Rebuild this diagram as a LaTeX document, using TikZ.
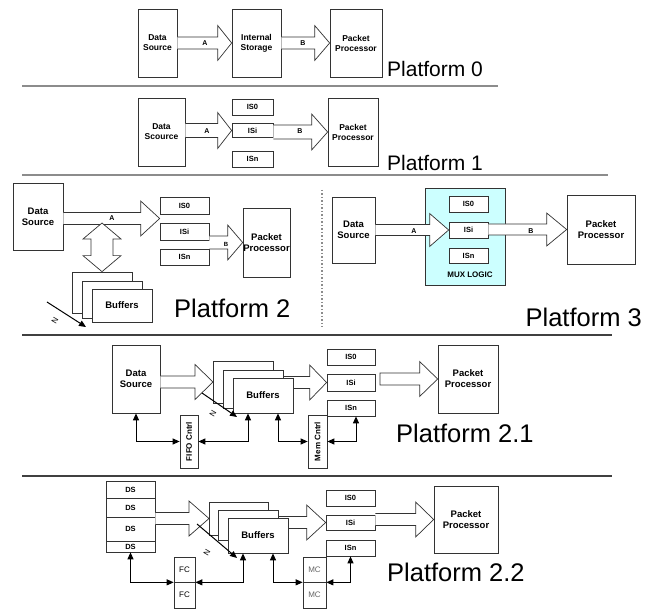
\documentclass[tikz,border=0pt]{standalone}
\usepackage{fontspec}
\setmainfont{Liberation Sans}
\usetikzlibrary{arrows.meta}
\usetikzlibrary{calc}
\definecolor{muxcyan}{HTML}{CCFFFF}
\tikzset{
    wh/.style 2 args = {minimum width=#1pt, minimum height=#2pt},
    blk/.style = {rectangle, draw=black!80, line width=0.7pt, fill=white, inner sep=0pt, align=center, font=\bfseries\fontsize{8.5}{10}\selectfont},
    blkl/.style = {blk, font=\bfseries\fontsize{9.5}{11}\selectfont},
    isbox/.style = {blk, font=\bfseries\fontsize{7.5}{8}\selectfont},
    dsrow/.style = {blk, font=\bfseries\fontsize{7.5}{8}\selectfont},
    ctrl/.style = {blk, font=\bfseries\fontsize{8}{9}\selectfont},
    half/.style = {blk, font=\fontsize{8}{9}\selectfont},
    lbl/.style = {inner sep=0pt, font=\bfseries\fontsize{7}{8}\selectfont},
    nlbl/.style = {inner sep=0pt, rotate=60, font=\fontsize{8}{9}\selectfont},
    plat/.style = {inner sep=0pt, font=\fontsize{25.5}{27}\selectfont},
    plats/.style = {inner sep=0pt, font=\fontsize{21}{23}\selectfont},
    fat/.style = {draw=black!80, line width=0.7pt, fill=white, line join=miter},
    dbl/.style = {{Triangle[length=7pt,width=6pt]}-{Triangle[length=7pt,width=6pt]}, line width=1pt},
    nline/.style = {-{Triangle[length=7pt,width=6pt]}, line width=1pt},
    sepg/.style = {draw=black!45, line width=2.5pt},
    sepd/.style = {draw=black!75, line width=1.5pt}
}
% hollow block arrow: [end] from, tip, shaft half, head half, head length
\newcommand{\fatarrow}[6][]{%
  \draw[fat] let \p1=(#2), \p2=(#3) in
    (\x1,\y2+#4) -- (\x2-#6,\y2+#4) -- (\x2-#6,\y2+#5) -- (\x2,\y2)
    -- (\x2-#6,\y2-#5) -- (\x2-#6,\y2-#4) -- (\x1,\y2-#4) #1;}

\begin{document}
\begin{tikzpicture}[x=1pt,y=-1pt]
  \useasboundingbox (0,0) rectangle (645,609);

  %% Platform 0
  \node[blk, wh={39}{68}] (ds0) at (157.5,43) {Data\\Source};
  \node[blk, wh={49}{68}] (st0) at (256.5,43) {Internal\\Storage};
  \node[blk, wh={52}{68}] (pp0) at (356,43) {Packet\\Processor};
  \fatarrow{ds0.east}{st0.west}{6pt}{17.5pt}{14pt}
  \fatarrow{st0.east}{pp0.west}{6pt}{17.5pt}{15pt}
  \node[lbl] (la0) at (205,43) {A};
  \node[lbl] (lb0) at (303,43) {B};
  \node[plats, anchor=base west] (p0) at (387,77) {Platform 0};
  \draw[sepg] (22,86) -- (498,86);

  %% Platform 1
  \node[blk, wh={47}{68}] (ds1) at (161.5,132) {Data\\Scource};
  \node[isbox, wh={41}{16}] (iz1) at (252.5,107) {IS0};
  \node[isbox, wh={41}{14}] (ii1) at (252.5,130.5) {ISi};
  \node[isbox, wh={41}{16}] (in1) at (252.5,159) {ISn};
  \node[blk, wh={50}{68}] (pp1) at (353,132) {Packet\\Processor};
  \fatarrow{ds1.east}{ii1.west}{7pt}{18pt}{14pt}
  \fatarrow{ii1.east}{pp1.west}{7pt}{18pt}{16pt}
  \node[lbl] (la1) at (207,131) {A};
  \node[lbl] (lb1) at (300,131) {B};
  \node[plats, anchor=base west] (p1) at (387,171) {Platform 1};
  \draw[sepg] (22,175) -- (608,175);

  %% Platform 2
  \node[blkl, wh={50}{67}] (ds2) at (38,216.5) {Data\\Source};
  \node[isbox, wh={49}{17}] (iz2) at (184.5,205.5) {IS0};
  \node[isbox, wh={49}{17}] (ii2) at (184.5,231.5) {ISi};
  \node[isbox, wh={49}{16}] (in2) at (184.5,257) {ISn};
  \node[blkl, wh={47}{69}] (pp2) at (266.5,242.5) {Packet\\Processor};
  \coordinate (ta2) at ($(iz2.south west)!.5!(ii2.north west)$);
  \fatarrow{ds2.east}{ta2}{6pt}{17.5pt}{19pt}
  \fatarrow{ii2.east}{pp2.west}{6.5pt}{17.5pt}{15pt}
  \node[lbl] (la2) at (112,218) {A};
  \node[lbl, font=\bfseries\fontsize{6}{7}\selectfont] (lb2) at (226,244) {B};
  \node[blkl, wh={60}{41}] (bf2a) at (102,292.5) {};
  \node[blkl, wh={60}{37}] (bf2b) at (112,299.5) {};
  \node[blkl, wh={60}{33}] (bf2c) at (122,305.5) {Buffers};
  \coordinate (vt2) at (102,223);
  \draw[fat] let \p1=(vt2), \p2=(bf2a.north) in
    (\x1,\y1) -- (\x1+19pt,\y1-16pt) -- (\x1+11pt,\y1-16pt) -- (\x1+11pt,\y2+16pt)
    -- (\x1+19pt,\y2+16pt) -- (\x2,\y2) -- (\x1-19pt,\y2+16pt) -- (\x1-11pt,\y2+16pt)
    -- (\x1-11pt,\y1-16pt) -- (\x1-19pt,\y1-16pt) -- cycle;
  \coordinate (ns2) at (47,302);
  \coordinate (ne2) at (86,327);
  \draw[nline] (ns2) -- (ne2);
  \node[nlbl] (n2) at (55,321) {N};
  \node[plat, anchor=west] (p2) at (174,308) {Platform 2};
  \draw[draw=black!45, line width=1.5pt, dotted] (322,190) -- (322,327);

  %% Platform 3
  \node[blkl, wh={43}{66}] (ds3) at (353.5,230) {Data\\Source};
  \node[blk, fill=muxcyan, wh={80}{97}] (mux) at (465,236.5) {};
  \node[lbl, font=\bfseries\fontsize{8}{9}\selectfont] (mxl) at (470,275) {MUX LOGIC};
  \node[isbox, wh={39}{16}] (iz3) at (468.5,204) {IS0};
  \node[isbox, wh={39}{16}] (ii3) at (468.5,230) {ISi};
  \node[isbox, wh={39}{15}] (in3) at (468.5,255.5) {ISn};
  \node[blkl, wh={68}{69}] (pp3) at (601,229.5) {Packet\\Processor};
  \fatarrow{ds3.east}{ii3.west}{5.5pt}{16.5pt}{19pt}
  \fatarrow{ii3.east}{pp3.west}{5.5pt}{16.5pt}{20pt}
  \node[lbl] (la3) at (414,231) {A};
  \node[lbl] (lb3) at (531,231) {B};
  \node[plat, anchor=east] (p3) at (642,317) {Platform 3};
  \draw[sepd] (22,335) -- (612,335);

  %% Platform 2.1
  \node[blkl, wh={48}{68}] (ds21) at (136,379) {Data\\Source};
  \node[isbox, wh={48}{16}] (iz21) at (351,357) {IS0};
  \node[isbox, wh={48}{17}] (ii21) at (351,382.5) {ISi};
  \node[isbox, wh={48}{16}] (in21) at (351,408) {ISn};
  \node[blkl, wh={60}{68}] (pp21) at (468,379) {Packet\\Processor};
  \coordinate (bf21) at (213,382);
  \fatarrow{ds21.east}{bf21}{6pt}{17.5pt}{18pt}
  \fatarrow{bf21}{ii21.west}{6pt}{17.5pt}{17pt}
  \node[blkl, wh={60}{42}] (bf21a) at (243,382) {};
  \node[blkl, wh={60}{38}] (bf21b) at (253,389) {};
  \node[blkl, wh={60}{35}] (bf21c) at (263,395.5) {Buffers};
  \coordinate (c21) at (380,382.5);
  \fatarrow[-- cycle]{c21}{pp21.west}{6pt}{17.5pt}{18pt}
  \node[ctrl, wh={18}{53}] (fifo) at (189,441.5) {\rotatebox{90}{FIFO Cntrl}};
  \node[ctrl, wh={19}{53}] (mem21) at (317.5,441.5) {\rotatebox{90}{Mem Cntrl}};
  \draw[dbl] (ds21.south) |- (fifo.west);
  \draw[dbl] (fifo.east) -| ([xshift=-15pt]bf21c.south);
  \draw[dbl] ([xshift=15pt]bf21c.south) |- (mem21.west);
  \draw[dbl] (mem21.east) -| ([xshift=5pt]in21.south);
  \coordinate (ns21) at (202,393);
  \coordinate (ne21) at (237,417);
  \draw[nline] (ns21) -- (ne21);
  \node[nlbl] (n21) at (213,414) {N};
  \node[plat, anchor=west] (p21) at (396,433) {Platform 2.1};
  \draw[sepd] (22,476) -- (612,476);

  %% Platform 2.2
  \node[dsrow, wh={49}{17}] (dsa) at (130.5,489.5) {DS};
  \node[dsrow, wh={49}{19}] (dsb) at (130.5,507.5) {DS};
  \node[dsrow, wh={49}{24}] (dsc) at (130.5,529) {DS};
  \node[dsrow, wh={49}{11}] (dsd) at (130.5,546.5) {DS};
  \node[isbox, wh={49}{16}] (iz22) at (350.5,498) {IS0};
  \node[isbox, wh={49}{15}] (ii22) at (350.5,522.5) {ISi};
  \node[isbox, wh={49}{16}] (in22) at (350.5,548) {ISn};
  \node[blkl, wh={64}{67}] (pp22) at (466,519.5) {Packet\\Processor};
  \coordinate (bf22) at (209,518.5);
  \fatarrow{dsc.east}{bf22}{6pt}{17.5pt}{20pt}
  \fatarrow{bf22}{ii22.west}{6pt}{17.5pt}{19pt}
  \node[blkl, wh={59}{33}] (bf22a) at (238.5,518.5) {};
  \node[blkl, wh={60}{30}] (bf22b) at (248,525) {};
  \node[blkl, wh={60}{35}] (bf22c) at (258,535.5) {Buffers};
  \fatarrow{ii22.east}{pp22.west}{6pt}{17.5pt}{18pt}
  \node[half, wh={21}{25}] (fc1) at (184.5,569.5) {FC};
  \node[half, wh={21}{26}] (fc2) at (184.5,595) {FC};
  \node[half, text=black!60, wh={23}{25}] (mc1) at (314.5,569.5) {MC};
  \node[half, text=black!60, wh={23}{26}] (mc2) at (314.5,595) {MC};
  \draw[dbl] (dsd.south) |- (fc1.south west);
  \draw[dbl] (fc1.south east) -| ([xshift=-15pt]bf22c.south);
  \draw[dbl] ([xshift=15pt]bf22c.south) |- (mc1.south west);
  \draw[dbl] (mc1.south east) -| (in22.south);
  \coordinate (ns22) at (197,524);
  \coordinate (ne22) at (237,558);
  \draw[nline] (ns22) -- (ne22);
  \node[nlbl] (n22) at (207,553) {N};
  \node[plat, anchor=west] (p22) at (387,572) {Platform 2.2};
\end{tikzpicture}
\end{document}
